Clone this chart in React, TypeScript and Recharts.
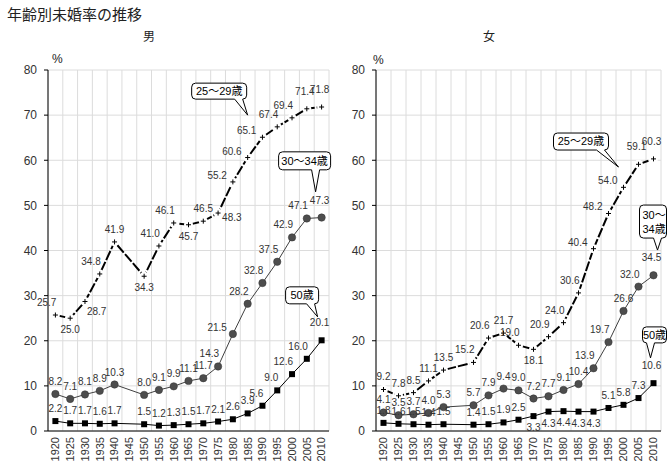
import React from 'react';
import {
  LineChart,
  Line,
  XAxis,
  YAxis,
  CartesianGrid,
  LabelList,
  ReferenceDot,
} from 'recharts';

const FONT = '"Liberation Sans", Arial, "Noto Sans CJK JP", sans-serif';

// census years (1945 has no survey, kept as an empty slot)
const years = ['1920', '1925', '1930', '1935', '1940', '1945', '1950', '1955', '1960', '1965',
  '1970', '1975', '1980', '1985', '1990', '1995', '2000', '2005', '2010'];
const yTicks = [0, 10, 20, 30, 40, 50, 60, 70, 80];

// 男
const male25 = [25.7, 25.0, 28.7, 34.8, 41.9, null, 34.3, 41.0, 46.1, 45.7, 46.5, 48.3, 55.2, 60.6, 65.1, 67.4, 69.4, 71.4, 71.8];
const male30 = [8.2, 7.1, 8.1, 8.9, 10.3, null, 8.0, 9.1, 9.9, 11.1, 11.7, 14.3, 21.5, 28.2, 32.8, 37.5, 42.9, 47.1, 47.3];
const male50 = [2.2, 1.7, 1.7, 1.6, 1.7, null, 1.5, 1.2, 1.3, 1.5, 1.7, 2.1, 2.6, 3.9, 5.6, 9.0, 12.6, 16.0, 20.1];

// 女
const female25 = [9.2, 7.8, 8.5, 11.1, 13.5, null, 15.2, 20.6, 21.7, 19.0, 18.1, 20.9, 24.0, 30.6, 40.4, 48.2, 54.0, 59.1, 60.3];
const female30 = [4.1, 3.5, 3.7, 4.0, 5.3, null, 5.7, 7.9, 9.4, 9.0, 7.2, 7.7, 9.1, 10.4, 13.9, 19.7, 26.6, 32.0, 34.5];
const female50 = [1.8, 1.6, 1.5, 1.4, 1.5, null, 1.4, 1.5, 1.9, 2.5, 3.3, 4.3, 4.4, 4.3, 4.3, 5.1, 5.8, 7.3, 10.6];

// where each data label sits relative to its point
const male25Pos = ['tl', 'b', 'br', 'tl', 't', '-', 'b', 'tl', 'tl', 'b', 't', 'r', 'l', 'l', 'l', 'tl', 'tl', 'tt', 'tt'];
const male30Pos = ['t', 't', 't', 't', 't', '-', 't', 't', 't', 't', 't', 'tl', 'l', 'tl', 'tl', 'tl', 'tl', 'tl', 'tt'];
const male50Pos = ['t', 't', 't', 't', 't', '-', 't', 't', 't', 't', 't', 't', 't', 't', 'tl', 'tl', 'tl', 'tl', 'tt'];
const female25Pos = ['t', 't', 't', 't', 't', '-', 'tl', 'tl', 't', 'tl', 'b', 'tl', 'tl', 'tl', 'l', 'l', 'l', 'tt', 'tt'];
const female30Pos = ['t', 't', 't', 't', 't', '-', 't', 't', 't', 't', 't', 't', 't', 't', 'tl', 'tl', 't', 'tl', 'tt'];
const female50Pos = ['t', 't', 't', 't', 't', '-', 't', 't', 't', 't', 'b', 'b', 'b', 'b', 'b', 't', 't', 't', 'tt'];

const place: Record<string, { dx: number; dy: number; anchor: string }> = {
  t: { dx: 0, dy: -9, anchor: 'middle' },
  tt: { dx: -2, dy: -14, anchor: 'middle' },
  tl: { dx: 1, dy: -9, anchor: 'end' },
  l: { dx: -6, dy: -3, anchor: 'end' },
  b: { dx: 0, dy: 15, anchor: 'middle' },
  br: { dx: 2, dy: 14, anchor: 'start' },
  r: { dx: 4, dy: 8, anchor: 'start' },
};

// speech-bubble callouts: tip anchored at (x, y) in data space
const maleCallouts = [
  { text: ['25～29歳'], x: '1985', y: 70, tipDx: 0, dx: -28.5, dy: -24, w: 55, h: 16 },
  { text: ['30～34歳'], x: '2010', y: 53, tipDx: -6, dx: -11, dy: -31, w: 52, h: 18 },
  { text: ['50歳'], x: '2010', y: 25.3, tipDx: -4, dx: -15.5, dy: -21.5, w: 33, h: 17 },
];
const femaleCallouts = [
  { text: ['25～29歳'], x: '2000', y: 58.5, tipDx: -5, dx: -37.5, dy: -25.5, w: 55, h: 17 },
  { text: ['30～', '34歳'], x: '2010', y: 40.1, tipDx: 4, dx: -4.5, dy: -28.5, w: 27, h: 33 },
  { text: ['50歳'], x: '2010', y: 16.2, tipDx: -3, dx: 4, dy: -23, w: 24, h: 16 },
];

const makeRows = (a: (number | null)[], b: (number | null)[], c: (number | null)[]) =>
  years.map((year, i) => ({ year, a25: a[i], a30: b[i], a50: c[i] }));

const maleRows = makeRows(male25, male30, male50);
const femaleRows = makeRows(female25, female30, female50);

const makeLabel = (pos: string[]) => (props: any) => {
  const { index, value } = props;
  const x = props.x ?? props.viewBox?.x;
  const y = props.y ?? props.viewBox?.y;
  if (value == null || x == null || y == null) return null;
  const p = place[pos[index]] ?? place.t;
  return (
    <text key={`l${index}`} x={x + p.dx} y={y + p.dy} textAnchor={p.anchor} fontSize={10} fill="#333">
      {Number(value).toFixed(1)}
    </text>
  );
};

const plusDot = (p: any) => {
  if (p.cx == null || p.cy == null || p.value == null) return <g key={`p${p.index}`} />;
  return (
    <g key={`p${p.index}`}>
      <circle cx={p.cx} cy={p.cy} r={4.5} fill="#fff" />
      <line x1={p.cx - 2.5} x2={p.cx + 2.5} y1={p.cy} y2={p.cy} stroke="#000" strokeWidth={1} />
      <line x1={p.cx} x2={p.cx} y1={p.cy - 2.5} y2={p.cy + 2.5} stroke="#000" strokeWidth={1} />
    </g>
  );
};

const circleDot = (p: any) => {
  if (p.cx == null || p.cy == null || p.value == null) return <g key={`c${p.index}`} />;
  return <circle key={`c${p.index}`} cx={p.cx} cy={p.cy} r={3.7} fill="#4d4d4d" stroke="#333" strokeWidth={0.5} />;
};

const squareDot = (p: any) => {
  if (p.cx == null || p.cy == null || p.value == null) return <g key={`s${p.index}`} />;
  return <rect key={`s${p.index}`} x={p.cx - 3} y={p.cy - 3} width={6} height={6} fill="#000" />;
};

const YearTick = (props: any) => {
  const { x, y, payload } = props;
  return (
    <text x={x} y={y} transform={`rotate(-90 ${x} ${y})`} textAnchor="end" dy="0.35em" fontSize={11} fill="#333">
      {payload.value}
    </text>
  );
};

const calloutShape = (c: any) => (props: any) => {
  const { cx, cy } = props;
  if (cx == null || cy == null) return <g />;
  const tx = cx + c.tipDx;
  const ty = cy;
  const L = tx + c.dx - c.w / 2;
  const T = ty + c.dy - c.h / 2;
  const R = L + c.w;
  const B = T + c.h;
  const r = 4;
  const base = Math.min(Math.max(tx, L + r + 4), R - r - 4);
  const b1 = base - 4;
  const b2 = base + 4;
  const d = `M${L + r},${T} H${R - r} Q${R},${T} ${R},${T + r} V${B - r} Q${R},${B} ${R - r},${B} H${b2} L${tx},${ty} L${b1},${B} H${L + r} Q${L},${B} ${L},${B - r} V${T + r} Q${L},${T} ${L + r},${T} Z`;
  const lineH = 14;
  const startY = T + c.h / 2 - ((c.text.length - 1) * lineH) / 2;
  return (
    <g>
      <path d={d} fill="#fff" stroke="#000" strokeWidth={1} />
      {c.text.map((t: string, i: number) => (
        <text
          key={t}
          x={c.text.length > 1 ? L + 3 : L + c.w / 2}
          y={startY + i * lineH}
          dy="0.36em"
          textAnchor={c.text.length > 1 ? 'start' : 'middle'}
          fontSize={11}
          fill="#000"
        >
          {t}
        </text>
      ))}
    </g>
  );
};

const gridX = ({ offset }: any) =>
  Array.from({ length: 20 }, (_, i) => offset.left + (i * offset.width) / 19);

interface PanelProps {
  rows: any[];
  pos: { a25: string[]; a30: string[]; a50: string[] };
  callouts: any[];
  mLeft: number;
  mRight: number;
}

const Panel: React.FC<PanelProps> = ({ rows, pos, callouts, mLeft, mRight }) => {
  const plotW = 335 - mLeft - 40 - mRight;
  const pad = plotW / 19 / 2;
  return (
    <LineChart width={335} height={464} data={rows} margin={{ top: 70, right: mRight, bottom: 3, left: mLeft }}>
      <CartesianGrid stroke="#dcdcdc" verticalCoordinatesGenerator={gridX} />
      <XAxis
        dataKey="year"
        interval={0}
        padding={{ left: pad, right: pad }}
        tickLine={{ stroke: 'none' }}
        tickSize={4}
        tickMargin={2}
        axisLine={{ stroke: '#000' }}
        height={30}
        tick={<YearTick />}
      />
      <YAxis
        domain={[0, 80]}
        ticks={yTicks}
        interval={0}
        width={40}
        tickSize={4}
        tickMargin={7}
        axisLine={{ stroke: '#000' }}
        tickLine={{ stroke: '#000' }}
        tick={{ fontSize: 12, fill: '#333' }}
      />
      <Line dataKey="a50" stroke="#000" strokeWidth={1} dot={squareDot} connectNulls isAnimationActive={false}>
        <LabelList dataKey="a50" content={makeLabel(pos.a50)} />
      </Line>
      <Line dataKey="a30" stroke="#404040" strokeWidth={1} dot={circleDot} connectNulls isAnimationActive={false}>
        <LabelList dataKey="a30" content={makeLabel(pos.a30)} />
      </Line>
      <Line dataKey="a25" stroke="#000" strokeWidth={2} strokeDasharray="10 2" dot={plusDot} connectNulls isAnimationActive={false}>
        <LabelList dataKey="a25" content={makeLabel(pos.a25)} />
      </Line>
      {callouts.map((c) => (
        <ReferenceDot
          key={c.text.join('')}
          x={c.x}
          y={c.y}
          r={0}
          ifOverflow="visible"
          shape={calloutShape(c)}
        />
      ))}
    </LineChart>
  );
};

export default function App() {
  return (
    <div style={{ position: 'absolute', left: 0, top: 0, width: 670, height: 464, background: '#fff', fontFamily: FONT, color: '#222' }}>
      <div style={{ position: 'absolute', left: 0, top: 0 }}>
        <Panel rows={maleRows} pos={{ a25: male25Pos, a30: male30Pos, a50: male50Pos }} callouts={maleCallouts} mLeft={8} mRight={6} />
      </div>
      <div style={{ position: 'absolute', left: 335, top: 0 }}>
        <Panel rows={femaleRows} pos={{ a25: female25Pos, a30: female30Pos, a50: female50Pos }} callouts={femaleCallouts} mLeft={1} mRight={9} />
      </div>
      <div style={{ position: 'absolute', left: 7, top: 6, fontSize: 15, lineHeight: '17px' }}>年齢別未婚率の推移</div>
      <div style={{ position: 'absolute', left: 143, top: 30, fontSize: 12, lineHeight: '14px' }}>男</div>
      <div style={{ position: 'absolute', left: 483, top: 30, fontSize: 12, lineHeight: '14px' }}>女</div>
      <div style={{ position: 'absolute', left: 52, top: 53, fontSize: 12, lineHeight: '12px' }}>%</div>
      <div style={{ position: 'absolute', left: 373, top: 54, fontSize: 12, lineHeight: '12px' }}>%</div>
    </div>
  );
}
